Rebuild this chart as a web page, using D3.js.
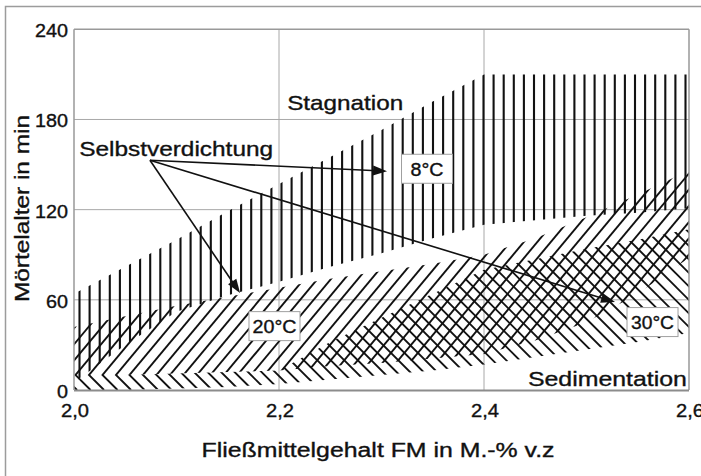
<!DOCTYPE html>
<html><head><meta charset="utf-8">
<script src="https://cdn.jsdelivr.net/npm/d3@7"></script>
<style>
body{margin:0;background:#fff}
svg{display:block}
text{font-family:"Liberation Sans",Arial,Helvetica,sans-serif;fill:#111;stroke:#111;stroke-width:0.35px}
</style>
</head><body>
<svg id="c" width="701" height="476"></svg>
<script>
// ---------------- data ----------------
const fm       = [2.0, 2.05, 2.1, 2.15, 2.2, 2.25, 2.3, 2.35, 2.4, 2.45, 2.5, 2.55, 2.6];
// 8 °C band (vertical hatch)
const upper8   = [64, 82, 100, 119, 137, 155, 173, 192, 210, 210, 210, 210, 210];
const lower8   = [5, 30, 52, 63, 72, 82, 91, 101, 110, 113, 116, 118, 121];
// 20 °C band ("/" hatch)
const upper20  = [42, 49, 56, 62, 68, 74, 79, 84, 90, 101, 115, 130, 146];
const lower20  = [10, 10, 11, 12, 13, 16, 18, 21, 24, 33, 45, 64, 88];
// 30 °C band ("\" hatch)
const upper30  = [10, 10, 11, 12, 13, 32, 48, 64, 80, 87, 94, 100, 107];
const lower30  = [0, 0, 1, 2, 4, 7, 10, 13, 17, 22, 27, 32, 38];

const xTicks      = [2.0, 2.2, 2.4, 2.6];
const xTickLabels = ["2,0", "2,2", "2,4", "2,6"];
const yTicks      = [0, 60, 120, 180, 240];
const yTickLabels = ["0", "60", "120", "180", "240"];

const xTitle = "Fließmittelgehalt FM in M.-% v.z";
const yTitle = "Mörtelalter in min";

// annotations (data coordinates)
const regionLabels = [
  {text: "Stagnation",        fm: 2.208, min: 186,  anchor: "start", len: 116},
  {text: "Selbstverdichtung", fm: 2.005, min: 155.5, anchor: "start", len: 194},
  {text: "Sedimentation",     fm: 2.598, min: 2.7,  anchor: "end",   len: 159}
];
const tempLabels = [
  {text: "8°C",  fm: 2.3444, min: 147.2, len: 33},
  {text: "20°C", fm: 2.1956, min: 42.5,  len: 44},
  {text: "30°C", fm: 2.5644, min: 45.2,  len: 43}
];
const arrowOrigin = {fm: 2.0741, min: 152.9};
const arrowTips = [
  {fm: 2.3054, min: 145.6},
  {fm: 2.162,  min: 64.5},
  {fm: 2.5278, min: 58.5}
];

// ---------------- scales ----------------
const x = d3.scaleLinear().domain([2.0, 2.6]).range([74, 689]);
const y = d3.scaleLinear().domain([0, 240]).range([390, 29.3]);
const X0 = x(2.0), X1 = x(2.6), Y0 = y(0), Y1 = y(240);

const svg = d3.select("#c");
const defs = svg.append("defs");

// outer frame
svg.append("rect").attr("x", 5.5).attr("y", 6.5).attr("width", 760).attr("height", 560)
  .attr("fill", "none").attr("stroke", "#9c9c9c").attr("stroke-width", 1.5);

// grid
const grid = svg.append("g").attr("stroke", "#a8a8a8").attr("stroke-width", 1);
grid.selectAll("line.h").data(yTicks.filter(v => v > 0 && v < 240)).join("line")
  .attr("x1", X0).attr("x2", X1).attr("y1", d => y(d)).attr("y2", d => y(d));
grid.selectAll("line.v").data(xTicks.filter(v => v > 2.0 && v < 2.6)).join("line")
  .attr("y1", Y1).attr("y2", Y0).attr("x1", d => x(d)).attr("x2", d => x(d));

// bands -> clip paths
function bandClip(id, lo, hi) {
  const area = d3.area()
    .x((d, i) => x(fm[i]))
    .y0((d, i) => y(lo[i]))
    .y1((d, i) => y(hi[i]));
  defs.append("clipPath").attr("id", id).append("path").attr("d", area(fm));
}
bandClip("b8", lower8, upper8);
bandClip("b20", lower20, upper20);
bandClip("b30", lower30, upper30);

const hatchColor = "#111";
// 8 °C vertical hatch
{
  const xs = d3.range(79.5, X1, 10.1);
  svg.append("g").attr("clip-path", "url(#b8)").selectAll("line").data(xs).join("line")
    .attr("x1", d => d).attr("x2", d => d).attr("y1", Y1).attr("y2", Y0)
    .attr("stroke", hatchColor).attr("stroke-width", 2.1);
}
// diagonal hatches share anchor points on the boundary y(10) so they form chevrons
const yb = y(10), step = 13.5, slopeUp = 1.2, slopeDn = 1.0;
const anchors = d3.range(X0 - 500, X1 + 500, step).map(v => v + 2);
svg.append("g").attr("clip-path", "url(#b20)").selectAll("line").data(anchors).join("line")
  .attr("x1", u => u + (yb - Y0) / slopeUp).attr("y1", Y0)
  .attr("x2", u => u + (yb - Y1) / slopeUp).attr("y2", Y1)
  .attr("stroke", hatchColor).attr("stroke-width", 1.9);
svg.append("g").attr("clip-path", "url(#b30)").selectAll("line").data(anchors).join("line")
  .attr("x1", v => v + (Y0 - yb) / slopeDn).attr("y1", Y0)
  .attr("x2", v => v + (Y1 - yb) / slopeDn).attr("y2", Y1)
  .attr("stroke", hatchColor).attr("stroke-width", 1.9);

// plot frame
const frame = svg.append("g").attr("fill", "none");
frame.append("line").attr("x1", X0).attr("x2", X1).attr("y1", Y1).attr("y2", Y1).attr("stroke", "#999").attr("stroke-width", 1.5);
frame.append("line").attr("x1", X1).attr("x2", X1).attr("y1", Y1).attr("y2", Y0).attr("stroke", "#999").attr("stroke-width", 1.5);
frame.append("line").attr("x1", X0).attr("x2", X0).attr("y1", Y1).attr("y2", Y0).attr("stroke", "#999").attr("stroke-width", 1.5);
frame.append("line").attr("x1", X0).attr("x2", X1).attr("y1", Y0 + 0.5).attr("y2", Y0 + 0.5).attr("stroke", "#8c8c8c").attr("stroke-width", 2);

// text helper
function txt(g, s, px, py, size, len, anchor, rot) {
  const t = g.append("text").attr("x", px).attr("y", py).attr("font-size", size)
    .attr("text-anchor", anchor || "start")
    .attr("textLength", len).attr("lengthAdjust", "spacingAndGlyphs").text(s);
  if (rot) t.attr("transform", `rotate(-90,${px},${py})`);
  return t;
}

const tg = svg.append("g");
// y tick labels
yTicks.forEach((v, i) => txt(tg, yTickLabels[i], 68, y(v) + 8, 18, yTickLabels[i].length * 11, "end"));
// x tick labels
xTicks.forEach((v, i) => txt(tg, xTickLabels[i], x(v) + 1, 417, 18, 28, "middle"));
// axis titles
txt(tg, xTitle, 378, 457, 20, 353, "middle");
txt(tg, yTitle, 29, 208.5, 21, 187, "middle", true);

// arrows
const ag = svg.append("g");
const ox = x(arrowOrigin.fm), oy = y(arrowOrigin.min);
arrowTips.forEach(t => {
  const tx = x(t.fm), ty = y(t.min);
  const dx = tx - ox, dy = ty - oy, L = Math.hypot(dx, dy);
  const ux = dx / L, uy = dy / L, nx = -uy, ny = ux;
  const hl = 14, hw = 5;
  ag.append("line").attr("x1", ox).attr("y1", oy).attr("x2", tx - ux * hl * 0.7).attr("y2", ty - uy * hl * 0.7)
    .attr("stroke", "#111").attr("stroke-width", 1.6);
  ag.append("path").attr("d", `M${tx},${ty}L${tx - ux * hl + nx * hw},${ty - uy * hl + ny * hw}L${tx - ux * hl - nx * hw},${ty - uy * hl - ny * hw}Z`)
    .attr("fill", "#111");
});

// region labels
regionLabels.forEach(d => txt(tg, d.text, x(d.fm), y(d.min), 21, d.len, d.anchor));

// temperature labels in boxes
const bg = svg.append("g");
tempLabels.forEach(d => {
  const cx = x(d.fm), cy = y(d.min);
  bg.append("rect").attr("x", cx - 25.5).attr("y", cy - 14.5).attr("width", 51).attr("height", 29)
    .attr("fill", "#fff").attr("stroke", "#a0a0a0").attr("stroke-width", 1);
  txt(bg, d.text, cx, cy + 7, 18, d.len, "middle");
});
</script>
</body></html>
